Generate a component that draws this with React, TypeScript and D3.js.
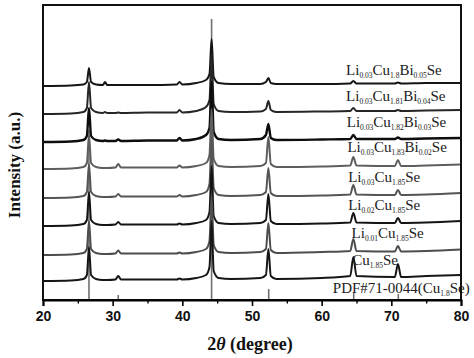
import { useEffect, useRef } from 'react';
import * as d3 from 'd3';

// 2theta sample points (deg) shared by every pattern
const twoTheta = [20, 24, 25.8, 26.3, 26.6, 26.9, 27.6, 28.6, 28.9, 29.2, 30.4, 30.8, 31.2, 35, 39.2, 39.6, 40.0, 42.0, 43.4, 43.9, 44.2, 44.5, 45.2, 47, 51.2, 52.0, 52.35, 52.7, 53.5, 60, 64.1, 64.55, 65.0, 70.5, 70.95, 71.4, 75, 80];

// sample names, top to bottom
const samples = [
  'Li_{0.03}Cu_{1.8}Bi_{0.05}Se',
  'Li_{0.03}Cu_{1.81}Bi_{0.04}Se',
  'Li_{0.03}Cu_{1.82}Bi_{0.03}Se',
  'Li_{0.03}Cu_{1.83}Bi_{0.02}Se',
  'Li_{0.03}Cu_{1.85}Se',
  'Li_{0.02}Cu_{1.85}Se',
  'Li_{0.01}Cu_{1.85}Se',
  'Cu_{1.85}Se',
];

// vertical offset of each pattern (a.u.)
const offsets = [214, 186, 158, 131, 102, 74, 45, 19];

// intensities (a.u., above each offset) at the twoTheta points
const bi005 = [0, 0.5, 1.5, 4, 18, 4, 1.5, 1, 4, 1, 1, 1, 1, 1, 1.5, 4, 1.5, 3, 6, 12, 47, 9, 3, 2, 2, 4, 8, 3, 2, 2, 2.5, 5, 2.5, 2.5, 3.5, 2.5, 3, 3];
const bi004 = [0, 0.5, 2, 6, 32, 6, 2, 1, 2, 1, 1, 1.5, 1, 1.5, 1.5, 4, 1.5, 3, 7, 14, 60, 10, 3, 2, 2.5, 5, 13, 4, 2, 2.5, 3, 6, 3, 3, 4, 3, 3.5, 4];
const bi003 = [0, 0.5, 2, 6, 34, 6, 2, 1, 1.5, 1, 1, 2.5, 1, 1.5, 1.5, 4, 1.5, 3, 7, 14, 60, 10, 3, 2, 3, 7, 18, 4, 2, 2.5, 3, 7, 3, 3, 4.5, 3, 3.5, 4];
const bi002 = [0, 0.5, 2, 6, 34, 6, 2, 1, 1, 1, 1.5, 5, 1.5, 1.5, 1.5, 3.5, 1.5, 3, 6, 14, 60, 10, 3, 2, 3, 6, 32, 5, 2, 2.5, 3.5, 12, 3.5, 3, 9, 3, 3.5, 4.5];
const li003 = [0, 0.5, 2, 6, 34, 6, 2, 1, 1, 1, 1.5, 4, 1.5, 1.5, 1.5, 3, 1.5, 3, 6, 14, 60, 10, 3, 2, 3, 6, 30, 5, 2, 2.5, 3.5, 13, 3.5, 3, 8, 3, 3.5, 5];
const li002 = [0, 0.5, 2, 6, 34, 6, 2, 1, 1, 1, 1.5, 4, 1.5, 1.5, 1.5, 2.5, 1.5, 3, 6, 14, 60, 10, 3, 2, 3, 6, 32, 5, 2, 2.5, 3.5, 13, 3.5, 3, 8, 3, 3.5, 5];
const li001 = [0, 0.5, 2, 6, 34, 6, 2, 1, 1, 1, 1.5, 4.5, 1.5, 1.5, 1.5, 2.5, 1.5, 3, 6, 14, 60, 10, 3, 2, 3, 6, 32, 5, 2, 3, 4, 16, 4, 3.5, 9, 3.5, 4, 5.5];
const cu185 = [0, 0.5, 2, 6, 34, 6, 2, 1, 1, 1, 1.5, 5, 1.5, 1.5, 1.5, 2.5, 1.5, 3, 6, 14, 60, 10, 3, 2, 3, 6, 32, 5, 2, 3, 5, 24, 5, 4, 17, 4, 5, 6];
const patterns = [bi005, bi004, bi003, bi002, li003, li002, li001, cu185];

const colors = ['#151515', '#262626', '#0d0d0d', '#5e5e5e', '#555555', '#141414', '#4d4d4d', '#161616'];

// reference card PDF#71-0044
const pdfLabel = 'PDF#71-0044(Cu_{1.8}Se)';
const pdfPos = [26.6, 30.8, 44.2, 52.4, 64.6, 71.0];
const pdfInt = [170, 5, 281, 11, 8, 6];

const xTicks = [20, 30, 40, 50, 60, 70, 80];
const xMinor = [25, 35, 45, 55, 65, 75];

const serif = '"Liberation Serif", "Times New Roman", serif';
const sans = '"Liberation Sans", Arial, sans-serif';

const addFormula = (sel, str, size) => {
  const parts = str.split(/_\{([^}]*)\}/);
  let shifted = false;
  parts.forEach((p, i) => {
    if (p === '') return;
    const sub = i % 2 === 1;
    const t = sel.append('tspan').text(p);
    if (sub) {
      t.attr('font-size', size * 0.5).attr('dy', 3);
      shifted = true;
    } else {
      t.attr('font-size', size);
      if (shifted) { t.attr('dy', -3); shifted = false; }
    }
  });
};

const App = () => {
  const svgRef = useRef(null);

  useEffect(() => {
    const W = 474, H = 358;
    const margin = { top: 5, right: 13, bottom: 58, left: 43 };
    const width = W - margin.left - margin.right;
    const height = H - margin.top - margin.bottom;

    const root = d3.select(svgRef.current);
    root.selectAll('*').remove();
    const svg = root.append('g').attr('transform', `translate(${margin.left},${margin.top})`);

    const x = d3.scaleLinear().domain([20, 80]).range([0, width]);
    const y = d3.scaleLinear().domain([0, 295]).range([height, 0]);

    // reference lines
    svg.selectAll('.pdf').data(pdfPos).enter().append('line')
      .attr('x1', (d) => x(d)).attr('x2', (d) => x(d))
      .attr('y1', y(0)).attr('y2', (d, i) => y(pdfInt[i]))
      .attr('stroke', '#707070').attr('stroke-width', 1.6);

    const line = d3.line().x((d) => x(d[0])).y((d) => y(d[1])).curve(d3.curveMonotoneX);

    patterns.forEach((vals, i) => {
      const pts = twoTheta.map((t, k) => [t, offsets[i] + vals[k]]);
      svg.append('path').attr('d', line(pts)).attr('fill', 'none')
        .attr('stroke', colors[i]).attr('stroke-width', i === 2 ? 2.4 : 2)
        .attr('stroke-linejoin', 'round');
    });

    // sample labels
    const labelAt = [63.5, 63.5, 63.6, 63.7, 63.8, 63.8, 64.3, 64.4];
    const lift = [11, 13, 15, 17, 16, 16, 17, 16];
    samples.forEach((s, i) => {
      const t = svg.append('text').attr('x', x(labelAt[i])).attr('y', y(offsets[i]) - lift[i])
        .attr('font-family', serif).attr('fill', '#202020');
      addFormula(t, s, 15);
    });
    const pt = svg.append('text').attr('x', x(61.6)).attr('y', height - 7)
      .attr('font-family', serif).attr('fill', '#202020');
    addFormula(pt, pdfLabel, 15);

    // frame
    svg.append('rect').attr('width', width).attr('height', height)
      .attr('fill', 'none').attr('stroke', '#111').attr('stroke-width', 2);

    const ax = svg.append('g').attr('transform', `translate(0,${height})`)
      .call(d3.axisBottom(x).tickValues(xTicks).tickSize(6).tickPadding(5));
    ax.select('.domain').attr('stroke-width', 2);
    ax.selectAll('line').attr('stroke-width', 1.6);
    ax.selectAll('text').attr('font-family', sans).attr('font-weight', 'bold').attr('font-size', 14).attr('fill', '#111');

    const mx = svg.append('g').attr('transform', `translate(0,${height})`)
      .call(d3.axisBottom(x).tickValues(xMinor).tickSize(3.5).tickFormat(() => ''));
    mx.select('.domain').remove();
    mx.selectAll('line').attr('stroke-width', 1.4);

    const xt = svg.append('text').attr('x', 207).attr('y', height + 50)
      .attr('text-anchor', 'middle').attr('font-family', serif).attr('font-weight', 'bold')
      .attr('font-size', 18).attr('fill', '#111');
    xt.append('tspan').text('2');
    xt.append('tspan').attr('font-style', 'italic').text('θ');
    xt.append('tspan').text(' (degree)');

    svg.append('text').attr('transform', 'rotate(-90)').attr('x', -160).attr('y', -23)
      .attr('text-anchor', 'middle').attr('font-family', serif).attr('font-weight', 'bold')
      .attr('font-size', 17).attr('fill', '#111').text('Intensity (a.u.)');
  }, []);

  return <svg ref={svgRef} width={474} height={358} style={{ display: 'block', position: 'absolute', left: 0, top: 0 }}></svg>;
};

export default App;
